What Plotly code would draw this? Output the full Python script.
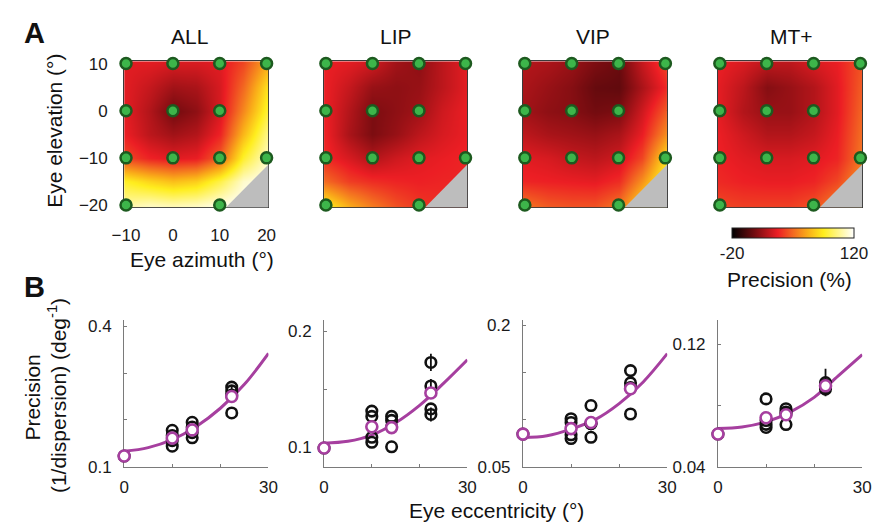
import numpy as np
import plotly.graph_objects as go

# ---------------- data ----------------
AREAS = ["ALL", "LIP", "VIP", "MT+"]

# Panel A: precision maps (%) read on a 5-deg grid; rows top (el=10) to bottom (el=-20)
GRID_AZ = [-10, -5, 0, 5, 10, 15, 20]
GRID_EL = [10, 5, 0, -5, -10, -15, -20]

HEAT_ALL = [
    [30, 30, 28, 28, 30, 42, 65],
    [30, 24, 16, 18, 28, 50, 80],
    [30, 20, 6, 12, 28, 58, 88],
    [32, 22, 16, 20, 34, 70, 100],
    [42, 34, 30, 32, 48, 88, 110],
    [86, 78, 72, 76, 92, 112, 118],
    [106, 110, 108, 110, 116, 120, 120],
]
HEAT_LIP = [
    [32, 30, 26, 16, 12, 22, 30],
    [32, 24, 14, 12, 14, 22, 30],
    [32, 20, 8, 12, 16, 26, 32],
    [33, 18, 8, 14, 22, 28, 32],
    [35, 28, 20, 26, 30, 32, 34],
    [50, 40, 36, 34, 33, 34, 34],
    [84, 66, 54, 44, 38, 36, 36],
]
HEAT_VIP = [
    [20, 18, 14, 8, 4, 24, 40],
    [18, 14, 10, 3, 2, 18, 34],
    [16, 12, 10, 6, 8, 26, 46],
    [22, 18, 16, 14, 18, 32, 58],
    [30, 28, 24, 22, 26, 42, 78],
    [34, 33, 32, 31, 36, 60, 90],
    [52, 46, 44, 44, 52, 80, 100],
]
HEAT_MT = [
    [32, 28, 22, 22, 28, 32, 44],
    [30, 22, 10, 14, 20, 30, 46],
    [30, 20, 14, 14, 20, 30, 48],
    [32, 26, 20, 20, 24, 32, 50],
    [33, 30, 28, 28, 30, 34, 52],
    [35, 33, 32, 32, 34, 42, 60],
    [42, 40, 40, 40, 44, 56, 70],
]
HEATS = [HEAT_ALL, HEAT_LIP, HEAT_VIP, HEAT_MT]
CBAR_MIN, CBAR_MAX = -20, 120

# Eye positions that were sampled (green dots)
SAMPLE_AZ = [-10, 0, 10, 20, -10, 0, 10, -10, 0, 10, 20, -10, 10]
SAMPLE_EL = [10, 10, 10, 10, 0, 0, 0, -10, -10, -10, -10, -20, -20]

# Panel B: precision (1/dispersion) at each sampled position (same order as above)
PREC_ALL = [0.195, 0.178, 0.185, 0.270, 0.167, 0.123, 0.156, 0.173, 0.144, 0.162, 0.262, 0.253, 0.215]
PREC_LIP = [0.1265, 0.1311, 0.1231, 0.1731, 0.1265, 0.0992, 0.1085, 0.1175, 0.1042, 0.1003, 0.1528, 0.1330, 0.1282]
PREC_VIP = [0.0958, 0.101, 0.115, 0.152, 0.097, 0.0847, 0.084, 0.0958, 0.080, 0.0813, 0.139, 0.134, 0.106]
PREC_MT = [0.0779, 0.0843, 0.0757, 0.0950, 0.0702, 0.0614, 0.0677, 0.0747, 0.0657, 0.0676, 0.0935, 0.0922, 0.0907]
PRECS = [PREC_ALL, PREC_LIP, PREC_VIP, PREC_MT]

ERR_ALL = [0, 0, 0, 0.004, 0, 0, 0, 0, 0, 0, 0, 0, 0]
ERR_LIP = [0, 0, 0, 0.0075, 0, 0, 0, 0, 0, 0, 0.006, 0, 0.006]
ERR_VIP = [0, 0, 0, 0, 0, 0, 0, 0, 0, 0, 0, 0, 0]
ERR_MT = [0, 0, 0, 0.009, 0, 0, 0, 0, 0, 0, 0, 0, 0]
ERRS = [ERR_ALL, ERR_LIP, ERR_VIP, ERR_MT]

# fitted curves
FIT_ECC = [0, 5, 10, 15, 20, 25, 30]
FIT_ALL = [0.133, 0.141, 0.158, 0.186, 0.225, 0.276, 0.342]
FIT_LIP = [0.1034, 0.105, 0.1104, 0.121, 0.136, 0.155, 0.1754]
FIT_VIP = [0.081, 0.083, 0.090, 0.100, 0.117, 0.140, 0.170]
FIT_MT = [0.065, 0.066, 0.0693, 0.0757, 0.0853, 0.0993, 0.1132]
FITS = [FIT_ALL, FIT_LIP, FIT_VIP, FIT_MT]

B_YRANGES = [[0.1, 0.414], [0.083, 0.210], [0.05, 0.206], [0.04, 0.136]]
B_YLABELS = [[0.1, 0.4], [0.1, 0.2], [0.05, 0.2], [0.04, 0.12]]
B_YMINOR = [[0.2, 0.3], [0.15], [0.1, 0.15], [0.08]]
B_XLABELS = [0, 30]
B_XMINOR = [10, 20]
A_TICKS = [-10, 0, 10, 20]
A_YTICKS = [-20, -10, 0, 10]

# ---------------- style / layout ----------------
FONT = "Liberation Sans, Arial, Helvetica, sans-serif"
W, H = 882, 532


def fx(p):
    return p / W


def fy(p):
    return 1 - p / H


COL_PX = [(114, 262), (319, 466), (523, 671), (723, 871)]
A_ROW_PX = (56, 207)
B_ROW_PX = (323, 475)
A_XRANGE = [-10.4, 20.4]
A_YRANGE = [-20.5, 10.5]
MASK_DIAG = 31.8
PURPLE = "#a63f9f"
GREEN = "#3db54a"
DKGREEN = "#1d5a1f"
BAXIS = "#7a7a7a"

HOT = [
    [0.0, "rgb(0,0,0)"],
    [0.19, "rgb(118,12,16)"],
    [0.375, "rgb(236,30,36)"],
    [0.5, "rgb(243,105,33)"],
    [0.62, "rgb(250,172,25)"],
    [0.75, "rgb(255,238,30)"],
    [1.0, "rgb(255,255,255)"],
]

fig = go.Figure()
layout = dict(
    width=W, height=H, margin=dict(l=0, r=0, t=0, b=0),
    paper_bgcolor="white", plot_bgcolor="white", showlegend=False,
    font=dict(family=FONT, size=17, color="#1a1a1a"),
    coloraxis=dict(
        cmin=CBAR_MIN, cmax=CBAR_MAX, colorscale=HOT,
        colorbar=dict(
            orientation="h", x=fx(800), xanchor="center", y=fy(228), yanchor="top",
            yref="paper", len=122, lenmode="pixels", thickness=10, thicknessmode="pixels",
            xpad=0, ypad=0, outlinecolor="#222", outlinewidth=1,
            tickvals=[CBAR_MIN, CBAR_MAX], ticktext=[str(CBAR_MIN), str(CBAR_MAX)],
            ticks="", tickfont=dict(size=17, family=FONT),
        ),
    ),
)

ecc_all = np.round(np.hypot(SAMPLE_AZ, SAMPLE_EL), 3)

for k, area in enumerate(AREAS):
    c0, c1 = COL_PX[k]
    # ---- panel A ----
    ia = k + 1
    xa, ya = ("x", "y") if ia == 1 else (f"x{ia}", f"y{ia}")
    layout[f"xaxis{'' if ia == 1 else ia}"] = dict(
        domain=[fx(c0), fx(c1)], range=A_XRANGE, anchor=ya,
        showline=True, linecolor="#3a3a3a", linewidth=1, mirror="ticks",
        ticks="inside", ticklen=3, tickcolor="#3a3a3a", tickvals=A_TICKS,
        showticklabels=(k == 0), ticklabelstandoff=12,
        showgrid=False, zeroline=False, layer="below traces",
        tickfont=dict(size=17),
    )
    layout[f"yaxis{'' if ia == 1 else ia}"] = dict(
        domain=[fy(A_ROW_PX[1]), fy(A_ROW_PX[0])], range=A_YRANGE, anchor=xa,
        showline=True, linecolor="#3a3a3a", linewidth=1, mirror="ticks",
        ticks="inside", ticklen=3, tickcolor="#3a3a3a", tickvals=A_YTICKS,
        showticklabels=(k == 0), ticklabelstandoff=12,
        showgrid=False, zeroline=False, layer="below traces",
        tickfont=dict(size=17),
    )
    fig.add_trace(go.Heatmap(
        x=GRID_AZ, y=GRID_EL[::-1], z=HEATS[k][::-1], zsmooth="best",
        coloraxis="coloraxis", xaxis=xa, yaxis=ya, hoverinfo="skip",
    ))
    # gray mask for the unsampled corner
    xl, xh = A_XRANGE
    yl, yh = A_YRANGE
    fig.add_trace(go.Scatter(
        x=[yl + MASK_DIAG, xh, xh, yl + MASK_DIAG],
        y=[yl, yl, xh - MASK_DIAG, yl],
        fill="toself", fillcolor="#bdbdbd", mode="lines", line=dict(width=0),
        xaxis=xa, yaxis=ya, hoverinfo="skip",
    ))
    fig.add_trace(go.Scatter(
        x=SAMPLE_AZ, y=SAMPLE_EL, mode="markers", cliponaxis=False,
        marker=dict(size=11, color=GREEN, line=dict(width=2.5, color=DKGREEN)),
        xaxis=xa, yaxis=ya, hoverinfo="skip",
    ))

    # ---- panel B ----
    ib = k + 5
    xb, yb = f"x{ib}", f"y{ib}"
    layout[f"xaxis{ib}"] = dict(
        domain=[fx(c0), fx(c1)], range=[0, 30], anchor=yb,
        showline=True, linecolor=BAXIS, linewidth=1,
        ticks="inside", ticklen=3, tickcolor=BAXIS,
        tickvals=B_XLABELS, ticklabelstandoff=5,
        minor=dict(tickvals=B_XMINOR, ticks="inside", ticklen=3, tickcolor=BAXIS),
        showgrid=False, zeroline=False, layer="below traces", tickfont=dict(size=17),
    )
    layout[f"yaxis{ib}"] = dict(
        domain=[fy(B_ROW_PX[1]), fy(B_ROW_PX[0])], range=B_YRANGES[k], anchor=xb,
        showline=True, linecolor=BAXIS, linewidth=1,
        ticks="inside", ticklen=3, tickcolor=BAXIS,
        tickvals=B_YLABELS[k], ticklabelstandoff=8,
        minor=dict(tickvals=B_YMINOR[k], ticks="inside", ticklen=3, tickcolor=BAXIS),
        showgrid=False, zeroline=False, layer="below traces", tickfont=dict(size=17),
    )
    prec = np.array(PRECS[k])
    levels = np.unique(ecc_all)
    means = [prec[ecc_all == e].mean() for e in levels]
    fig.add_trace(go.Scatter(
        x=FIT_ECC, y=FITS[k], mode="lines", line=dict(color=PURPLE, width=3, shape="spline"),
        xaxis=xb, yaxis=yb, hoverinfo="skip",
    ))
    fig.add_trace(go.Scatter(
        x=ecc_all, y=prec, mode="markers", cliponaxis=False,
        error_y=dict(type="data", array=ERRS[k], color="#111", thickness=1.8, width=0),
        marker=dict(symbol="circle-open", size=10.5, color="#111", line=dict(width=2.6, color="#111")),
        xaxis=xb, yaxis=yb, hoverinfo="skip",
    ))
    fig.add_trace(go.Scatter(
        x=levels, y=means, mode="markers", cliponaxis=False,
        marker=dict(symbol="circle", size=11, color="white", line=dict(width=2.6, color=PURPLE)),
        xaxis=xb, yaxis=yb, hoverinfo="skip",
    ))

ann = []


def add_text(text, x, y, size=21, angle=0, bold=False):
    ann.append(dict(
        text=f"<b>{text}</b>" if bold else text, x=fx(x), y=fy(y), xref="paper", yref="paper",
        xanchor="center", yanchor="middle", showarrow=False, textangle=angle,
        font=dict(size=size, family=FONT, color="#111"),
    ))


TITLE_X = [181, 393, 595, 798]
for k, area in enumerate(AREAS):
    add_text(area, TITLE_X[k], 30)
add_text("A", 22, 27, size=29, bold=True)
add_text("B", 22, 289, size=29, bold=True)
add_text("Eye elevation (°)", 43, 128, angle=-90)
add_text("Eye azimuth (°)", 194, 261)
add_text("Precision (%)", 796, 282)
add_text("Precision", 20, 404, angle=-90)
add_text("(1/dispersion) (deg<sup>-1</sup>)", 45, 401, angle=-90)
add_text("Eye eccentricity (°)", 496, 520)
layout["annotations"] = ann

fig.update_layout(**layout)
fig.write_html("out.html")
